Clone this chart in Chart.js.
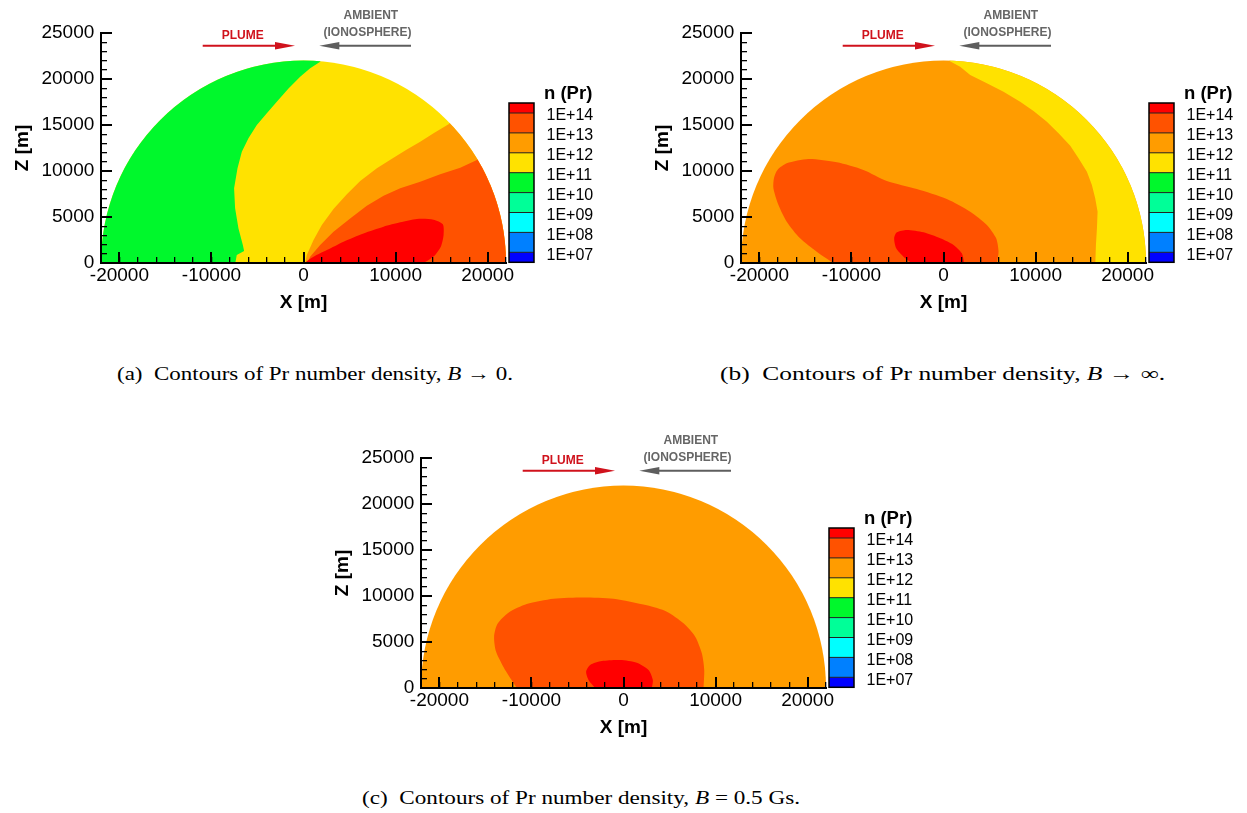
<!DOCTYPE html>
<html><head><meta charset="utf-8">
<script src="https://cdn.jsdelivr.net/npm/chart.js@4.4.1/dist/chart.umd.min.js"></script>
<style>
html,body{margin:0;padding:0;background:#fff;}
body{width:1247px;height:813px;overflow:hidden;position:relative;}
.panel{position:absolute;width:640px;height:330px;}
.cap{position:absolute;font-family:'Liberation Serif','DejaVu Serif',serif;font-size:19px;line-height:20px;color:#000;white-space:nowrap;transform-origin:0 50%;}
</style></head><body>
<div class="panel" style="left:0px;top:0px"><canvas id="ca" width="640" height="330"></canvas></div>
<div class="panel" style="left:640px;top:0px"><canvas id="cb" width="640" height="330"></canvas></div>
<div class="panel" style="left:320px;top:425px"><canvas id="cc" width="640" height="330"></canvas></div>
<div class="cap" id="capA" data-w="396" style="left:117px;top:364px">(a)&nbsp; Contours of Pr number density, <i>B</i> → 0.</div>
<div class="cap" id="capB" data-w="445" style="left:720px;top:364px">(b)&nbsp; Contours of Pr number density, <i>B</i> → ∞.</div>
<div class="cap" id="capC" data-w="438" style="left:362px;top:788px">(c)&nbsp; Contours of Pr number density, <i>B</i> = 0.5 Gs.</div>
<script>
// ---------- data ----------
const R_DOMAIN = 22000;                 // radius of the semicircular domain [m]
const X_RANGE = [-22000, 22000];
const Z_RANGE = [0, 25000];
const xTickValues = [-20000, -10000, 0, 10000, 20000];
const zTickValues = [0, 5000, 10000, 15000, 20000, 25000];
const X_MINOR_STEP = 2000, Z_MINOR_STEP = 1000;
const levelLabels = ['1E+14','1E+13','1E+12','1E+11','1E+10','1E+09','1E+08','1E+07'];
const levelColors = ['#FF0000','#FF5200','#FF9C00','#FFE200','#00F82C','#00FF98','#00FFFF','#0080FF','#0000FF'];
const legendTitle = 'n (Pr)';

// whole domain (clipped to the semicircle)
const domainRect = [[-23000,-500],[23000,-500],[23000,23500],[-23000,23500]];

// panel (a) B -> 0 : region boundaries [X, Z] in m
const aGreen = [[2600,23500],[1812,21880],[725,21160],[-362,20250],[-1630,18980],[-2900,17540],[-3985,16270],[-5070,15000],[-5980,13550],[-6700,12100],[-7170,10290],[-7540,8120],[-7430,5940],[-7070,3770],[-6590,1960],[-6450,1300],[-7250,870],[-7500,-500],[-23000,-500],[-23000,23500]];
const aOrange = [[17500,17000],[15760,15070],[14130,14090],[12680,13190],[11230,12350],[9780,11450],[7970,10290],[6160,8910],[4710,7460],[3260,5870],[1990,4130],[1090,2500],[360,870],[70,-500],[24000,-500],[24000,17000]];
const aRedOrange = [[21500,13000],[18840,11200],[17030,10360],[14850,9640],[12680,8840],[10510,8120],[8700,7320],[6880,6230],[5070,4850],[3260,3410],[1810,1960],[720,690],[180,-500],[24000,-500],[24000,12000]];
const aRed = [[70,0],[1090,690],[2540,1410],[4350,2320],[6520,3220],[8700,3950],[10510,4420],[12320,4780],[14130,4710],[15140,4200],[15220,3040],[14930,1780],[14310,870],[13590,330],[13040,0]];

// panel (b) B -> infinity
const bYellow = [[600,23500],[650,21960],[1810,21340],[2900,20430],[4710,19530],[6520,18620],[8330,17540],[9780,16520],[11230,15360],[12500,14090],[13770,12750],[14670,11380],[15580,9930],[16120,8480],[16480,7030],[16740,5580],[16670,3770],[16560,1960],[16480,-500],[24000,-500],[24000,23500]];
const bRedOrange = [[-11960,0],[-13770,1230],[-15580,2680],[-17030,4490],[-17930,6300],[-18480,8120],[-18410,9270],[-18040,10110],[-17030,10830],[-14670,11300],[-11590,10940],[-8700,10110],[-6160,8910],[-2900,8040],[360,6960],[2900,5580],[4710,4130],[5720,2680],[5980,1230],[5800,0]];
const bRed = [[-3440,0],[-4350,690],[-5140,1590],[-5360,2680],[-5070,3330],[-3990,3590],[-2170,3330],[-360,2680],[1090,1960],[1990,1050],[2250,0]];

// panel (c) B = 0.5 Gs
const cRedOrange = [[-11590,0],[-12750,1780],[-13840,3950],[-14060,5580],[-13700,6960],[-12500,8190],[-10510,9130],[-7610,9710],[-4350,9850],[-1090,9710],[2540,8990],[4710,8300],[6520,7030],[7790,5580],[8510,3770],[8770,1960],[8700,0]];
const cRed = [[-3080,0],[-3800,870],[-4060,1780],[-3620,2500],[-2360,2930],[-360,3040],[1450,2750],[2720,1960],[3190,870],[3080,0]];

// colour index into levelColors for each region
const C_RED = 0, C_REDOR = 1, C_OR = 2, C_YEL = 3, C_GRN = 4;

// ---------- plugins ----------
const FONT = "'Liberation Sans', Arial, Helvetica, sans-serif";

const semiClip = {
  id: 'semiClip',
  beforeDatasetsDraw(chart) {
    const {ctx, scales: {x, y}} = chart;
    const cx = x.getPixelForValue(0), cy = y.getPixelForValue(0);
    const rx = x.getPixelForValue(R_DOMAIN) - cx, ry = cy - y.getPixelForValue(R_DOMAIN);
    ctx.save();
    ctx.beginPath();
    ctx.ellipse(cx, cy, rx, ry, 0, Math.PI, 2 * Math.PI);
    ctx.closePath();
    ctx.clip();
  },
  afterDatasetsDraw(chart) { chart.ctx.restore(); }
};

const colorBar = {
  id: 'colorBar',
  afterDraw(chart) {
    const {ctx, chartArea: a} = chart;
    const x0 = a.right + 3, w = 25, top = a.top + 70, half = 10, full = 19.9;
    const hs = [half]; for (let i = 0; i < levelLabels.length - 1; i++) hs.push(full); hs.push(half);
    ctx.save();
    let yy = top;
    levelColors.forEach((c, i) => { ctx.fillStyle = c; ctx.fillRect(x0, yy, w, hs[i] + 0.3); yy += hs[i]; });
    const bottom = yy;
    ctx.strokeStyle = '#222'; ctx.lineWidth = 1;
    ctx.fillStyle = '#000'; ctx.font = '16px ' + FONT; ctx.textAlign = 'left'; ctx.textBaseline = 'middle';
    levelLabels.forEach((lab, k) => {
      const ly = top + half + k * full;
      ctx.beginPath(); ctx.moveTo(x0, ly); ctx.lineTo(x0 + w, ly); ctx.stroke();
      ctx.fillText(lab, x0 + 37.5, ly + 3);
    });
    ctx.lineWidth = 1.5; ctx.strokeStyle = '#000';
    ctx.strokeRect(x0, top, w, bottom - top);
    ctx.font = 'bold 18.5px ' + FONT;
    ctx.fillText(legendTitle, x0 + 35, top - 9.5);
    ctx.restore();
  }
};

function arrow(ctx, xFrom, xTip, y, color) {
  const dir = Math.sign(xTip - xFrom);
  ctx.strokeStyle = color; ctx.fillStyle = color; ctx.lineWidth = 2;
  ctx.beginPath(); ctx.moveTo(xFrom, y); ctx.lineTo(xTip - dir * 15, y); ctx.stroke();
  ctx.beginPath(); ctx.moveTo(xTip, y); ctx.lineTo(xTip - dir * 20, y - 3.8); ctx.lineTo(xTip - dir * 20, y + 3.8); ctx.closePath(); ctx.fill();
}

const flowLabels = {
  id: 'flowLabels',
  afterDraw(chart) {
    const {ctx, chartArea: a} = chart;
    const L = a.left, T = a.top;
    ctx.save();
    ctx.textAlign = 'center'; ctx.textBaseline = 'middle';
    ctx.font = 'bold 12px ' + FONT;
    ctx.fillStyle = '#D0121C';
    ctx.fillText('PLUME', L + 141.7, T + 2.2);
    arrow(ctx, L + 101.7, L + 194, T + 12.7, '#D0121C');
    ctx.fillStyle = '#666666';
    ctx.fillText('AMBIENT', L + 269.8, T - 17.6);
    ctx.fillText('(IONOSPHERE)', L + 266.5, T - 0.5);
    arrow(ctx, L + 310, L + 218.3, T + 12.7, '#5E5E5E');
    ctx.restore();
  }
};

function stepTicks(min, max, step) {
  const t = [];
  for (let v = min; v <= max + 1e-6; v += step) t.push({value: v});
  return t;
}

// ---------- chart builder ----------
function makeScales() {
  const tickFont = {family: FONT, size: 19};
  const titleFont = {family: FONT, size: 19, weight: 'bold'};
  const major = {drawOnChartArea: false, color: '#000', lineWidth: 2, tickLength: -11, z: 2};
  const minor = {drawOnChartArea: false, color: '#000', lineWidth: 1.3, tickLength: -6, z: 2};
  const border = {display: true, color: '#000', width: 2, z: 3};
  return {
    x: {type: 'linear', position: 'bottom', min: X_RANGE[0], max: X_RANGE[1], weight: 1, z: 1,
        ticks: {autoSkip: false, maxRotation: 0, minRotation: 0, z: 3,
                padding: 12.5, color: '#000', font: tickFont, callback: v => v.toString()},
        afterBuildTicks(s) { s.ticks = xTickValues.map(v => ({value: v})); },
        grid: major, border,
        title: {display: true, text: 'X [m]', color: '#000', font: titleFont, padding: {top: 0, bottom: 0}},
        afterFit(s) { s.height = 51; }},
    xm: {type: 'linear', position: 'bottom', min: X_RANGE[0], max: X_RANGE[1], weight: 0, z: 1,
        ticks: {autoSkip: false, maxRotation: 0, minRotation: 0, z: 3, callback: () => ''},
        afterBuildTicks(s) { s.ticks = stepTicks(X_RANGE[0], X_RANGE[1], X_MINOR_STEP); },
        grid: minor, border, afterFit(s) { s.height = 0; }},
    y: {type: 'linear', position: 'left', min: Z_RANGE[0], max: Z_RANGE[1], weight: 1, z: 1,
        ticks: {autoSkip: false, padding: 17.7, z: 3, color: '#000', font: tickFont, callback: v => v.toString()},
        afterBuildTicks(s) { s.ticks = zTickValues.map(v => ({value: v})); },
        grid: major, border,
        title: {display: true, text: 'Z [m]', color: '#000', font: titleFont, padding: {top: 11, bottom: 0}},
        afterFit(s) { s.width = 101; }},
    ym: {type: 'linear', position: 'left', min: Z_RANGE[0], max: Z_RANGE[1], weight: 0, z: 1,
        ticks: {autoSkip: false, z: 3, callback: () => ''},
        afterBuildTicks(s) { s.ticks = stepTicks(Z_RANGE[0], Z_RANGE[1], Z_MINOR_STEP); },
        grid: minor, border, afterFit(s) { s.width = 0; }}
  };
}

function makeChart(id, regions) {
  const n = regions.length;
  const datasets = regions.map((r, i) => ({
    data: r.pts.map(([x, y]) => ({x, y})),
    showLine: true, fill: 'shape',
    backgroundColor: levelColors[r.c], borderColor: levelColors[r.c], borderWidth: 0,
    pointRadius: 0, pointHoverRadius: 0, tension: r.t || 0,
    order: n - i, xAxisID: 'x', yAxisID: 'y'
  }));
  return new Chart(document.getElementById(id), {
    type: 'scatter',
    data: {datasets},
    options: {
      responsive: false, animation: false, events: [],
      layout: {padding: {left: 0, top: 33, right: 134, bottom: 16}},
      plugins: {legend: {display: false}, tooltip: {enabled: false}},
      scales: makeScales()
    },
    plugins: [semiClip, colorBar, flowLabels]
  });
}

makeChart('ca', [
  {pts: domainRect, c: C_YEL},
  {pts: aGreen, c: C_GRN},
  {pts: aOrange, c: C_OR},
  {pts: aRedOrange, c: C_REDOR},
  {pts: aRed, c: C_RED, t: 0.25}
]);
makeChart('cb', [
  {pts: domainRect, c: C_OR},
  {pts: bYellow, c: C_YEL},
  {pts: bRedOrange, c: C_REDOR, t: 0.25},
  {pts: bRed, c: C_RED, t: 0.25}
]);
makeChart('cc', [
  {pts: domainRect, c: C_OR},
  {pts: cRedOrange, c: C_REDOR, t: 0.25},
  {pts: cRed, c: C_RED, t: 0.25}
]);

// fit captions to their widths
document.querySelectorAll('.cap').forEach(el => {
  const w = el.getBoundingClientRect().width;
  const target = parseFloat(el.dataset.w);
  el.style.transform = 'scaleX(' + (target / w).toFixed(4) + ')';
});
</script>
</body></html>
